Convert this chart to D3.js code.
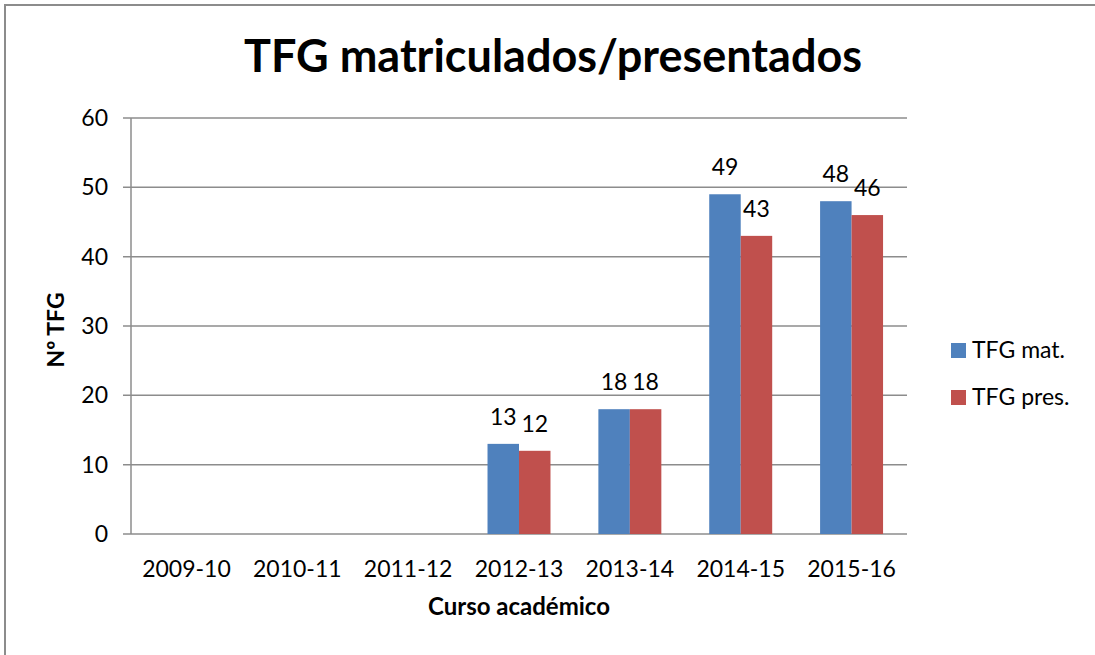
<!DOCTYPE html>
<html>
    <head>
        <meta charset="UTF-8">
        <title>TFG matriculados/presentados</title>
        <script src="https://cdn.jsdelivr.net/npm/d3@7"></script>
        <style>
            body { margin: 0; background: #fff; }
            text { font-family: Lato, 'Open Sans', sans-serif; fill: #000; }
            .axis text { font-size: 23px; }
            .axis path { display: none; }
            .grid line { stroke: #8c8c8c; stroke-width: 1.5; }
        </style>
    </head>
    <body>
        <svg id="svg"></svg>
        <script>
            var WIDTH = 1095;
            var HEIGHT = 655;

            // Data
            var cursos = ['2009-10', '2010-11', '2011-12', '2012-13', '2013-14', '2014-15', '2015-16'];
            var series = ['TFG mat.', 'TFG pres.'];
            var matriculados = [null, null, null, 13, 18, 49, 48];
            var presentados = [null, null, null, 12, 18, 43, 46];
            var yTicks = [0, 10, 20, 30, 40, 50, 60];
            var colors = ['#4f81bd', '#c0504d'];

            var plotLeft = 131, plotRight = 907, plotTop = 118, plotBottom = 534;

            var svg = d3.select('#svg')
                        .attr('width', WIDTH)
                        .attr('height', HEIGHT);

            // outer frame (top and left edges visible)
            svg.append('path')
               .attr('d', 'M5,' + HEIGHT + 'V5H' + WIDTH)
               .attr('fill', 'none')
               .attr('stroke', '#8c8c8c')
               .attr('stroke-width', 2);

            var xScale = d3.scaleBand()
                           .domain(cursos)
                           .range([plotLeft, plotRight]);
            var yScale = d3.scaleLinear()
                           .domain([0, 60])
                           .range([plotBottom, plotTop]);
            var barW = xScale.bandwidth() * 0.284;

            // gridlines + ticks
            svg.append('g')
               .attr('class', 'grid')
               .selectAll('line')
               .data(yTicks)
               .enter()
               .append('line')
               .attr('x1', plotLeft - 8)
               .attr('x2', plotRight)
               .attr('y1', function(d){ return yScale(d); })
               .attr('y2', function(d){ return yScale(d); });
            svg.append('line')
               .attr('x1', plotLeft).attr('x2', plotLeft)
               .attr('y1', plotTop).attr('y2', plotBottom)
               .attr('stroke', '#8c8c8c')
               .attr('stroke-width', 1.5);

            var yAxis = d3.axisLeft(yScale).tickValues(yTicks).tickSize(0).tickPadding(23);
            svg.append('g')
               .attr('class', 'axis')
               .attr('transform', 'translate(' + plotLeft + ',0)')
               .call(yAxis);

            var xAxis = d3.axisBottom(xScale).tickSize(0).tickPadding(27);
            svg.append('g')
               .attr('class', 'axis')
               .attr('transform', 'translate(0,' + plotBottom + ')')
               .call(xAxis);

            // bars
            [matriculados, presentados].forEach(function(vals, s){
                var rows = cursos.map(function(c, i){ return {c: c, v: vals[i]}; })
                                 .filter(function(d){ return d.v !== null; });
                var g = svg.append('g');
                g.selectAll('rect')
                 .data(rows)
                 .enter()
                 .append('rect')
                 .attr('x', function(d){ return xScale(d.c) + xScale.bandwidth() / 2 - barW + s * barW; })
                 .attr('y', function(d){ return yScale(d.v); })
                 .attr('width', barW)
                 .attr('height', function(d){ return yScale(0) - yScale(d.v); })
                 .attr('fill', colors[s]);
                g.selectAll('text')
                 .data(rows)
                 .enter()
                 .append('text')
                 .attr('x', function(d){ return xScale(d.c) + xScale.bandwidth() / 2 - barW / 2 + s * barW; })
                 .attr('y', function(d){ return yScale(d.v) - 19; })
                 .attr('text-anchor', 'middle')
                 .attr('font-size', 23)
                 .text(function(d){ return d.v; });
            });

            // title
            svg.append('text')
               .attr('x', 553)
               .attr('y', 72)
               .attr('text-anchor', 'middle')
               .attr('font-size', 45)
               .attr('font-weight', 'bold')
               .text('TFG matriculados/presentados');

            // axis titles
            svg.append('text')
               .attr('transform', 'translate(64,330) rotate(-90)')
               .attr('text-anchor', 'middle')
               .attr('font-size', 23)
               .attr('font-weight', 'bold')
               .text('Nº TFG');
            svg.append('text')
               .attr('x', 519)
               .attr('y', 615)
               .attr('text-anchor', 'middle')
               .attr('font-size', 24)
               .attr('font-weight', 'bold')
               .text('Curso académico');

            // legend
            var legend = svg.append('g')
                            .selectAll('g')
                            .data(series)
                            .enter()
                            .append('g')
                            .attr('transform', function(d, i){ return 'translate(951,' + (343 + i * 47) + ')'; });
            legend.append('rect')
                  .attr('width', 15)
                  .attr('height', 15)
                  .attr('fill', function(d, i){ return colors[i]; });
            legend.append('text')
                  .attr('x', 21)
                  .attr('y', 15)
                  .attr('font-size', 23)
                  .text(function(d){ return d; });
        </script>
    </body>
</html>
